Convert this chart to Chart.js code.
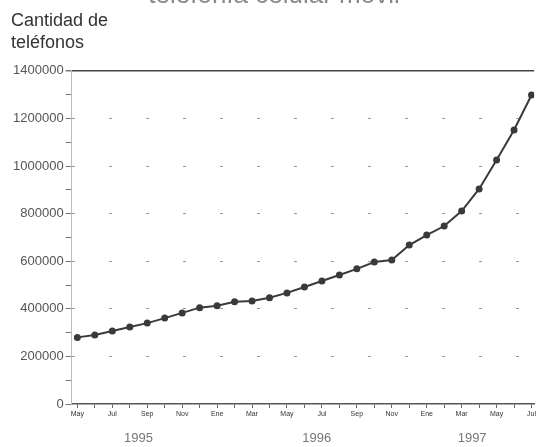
<!DOCTYPE html>
<html>
<head>
<meta charset="utf-8">
<script src="https://cdn.jsdelivr.net/npm/chart.js@4/dist/chart.umd.min.js"></script>
<style>
  html, body { margin: 0; padding: 0; background: #fff; }
  #wrap { width: 538px; height: 447px; }
</style>
</head>
<body>
<div id="wrap"><canvas id="c"></canvas></div>
<script>
const months = ['May','Jun','Jul','Ago','Sep','Oct','Nov','Dic','Ene','Feb','Mar','Abr','May','Jun','Jul','Ago','Sep','Oct','Nov','Dic','Ene','Feb','Mar','Abr','May','Jun','Jul'];
const phones = [280000,290000,307000,324000,340000,361000,383000,405000,413000,430000,433000,447000,467000,492000,517000,542000,568000,597000,605000,668000,710000,748000,811000,904000,1026000,1152000,1299000];
const years = ['1995','1996','1997'];
const yearAt = [3.5, 13.7, 22.6];
const yTicks = [0,100000,200000,300000,400000,500000,600000,700000,800000,900000,1000000,1100000,1200000,1300000,1400000];
const titleText = 'telefonía celular móvil';
const yTitle = ['Cantidad de','teléfonos'];

const TOP = 1400000;
const isMajor = v => v % 200000 === 0;

new Chart(document.getElementById('c'), {
  type: 'line',
  data: {
    datasets: [{
      data: phones.map((v, i) => ({x: i, y: v})),
      borderColor: '#3a3a3a',
      backgroundColor: '#3a3a3a',
      borderWidth: 2,
      pointRadius: 2.5,
      pointHoverRadius: 2.5,
      tension: 0,
      fill: false
    }]
  },
  options: {
    responsive: true,
    maintainAspectRatio: false,
    animation: false,
    events: [],
    layout: { autoPadding: false, padding: { left: 11, right: 1, top: 0, bottom: -1 } },
    plugins: {
      legend: { display: false },
      tooltip: { enabled: false },
      title: {
        display: true,
        text: titleText,
        color: '#8a8a8a',
        font: { family: 'Liberation Sans', size: 26, weight: 'normal' },
        padding: { top: -20, bottom: -3.2 }
      },
      subtitle: {
        display: true,
        text: yTitle,
        align: 'start',
        color: '#333',
        font: { family: 'Liberation Sans', size: 18, weight: 'normal', lineHeight: 1.22 },
        padding: { top: 2, bottom: 17 }
      }
    },
    scales: {
      x: {
        type: 'linear',
        position: 'bottom',
        weight: 0,
        min: -0.33,
        max: 26.15,
        afterBuildTicks: s => { s.ticks = months.map((m, i) => ({ value: i })); },
        ticks: {
          autoSkip: false,
          maxRotation: 0,
          padding: 2,
          color: '#333',
          font: { family: 'Liberation Sans', size: 7 },
          callback: (v, i) => (i % 2 === 0 ? months[i] : '')
        },
        grid: { drawOnChartArea: false, drawTicks: true, tickLength: 4, color: '#666' },
        border: { color: '#555', width: 1.5 }
      },
      x2: {
        type: 'linear',
        position: 'bottom',
        weight: 1,
        min: -0.33,
        max: 26.15,
        afterBuildTicks: s => { s.ticks = yearAt.map(v => ({ value: v })); },
        ticks: {
          autoSkip: false,
          maxRotation: 0,
          padding: 2,
          color: '#777',
          font: { family: 'Liberation Sans', size: 13 },
          callback: (v, i) => years[i]
        },
        grid: { display: false },
        border: { display: false }
      },
      y: {
        min: 0,
        max: TOP,
        afterBuildTicks: s => { s.ticks = yTicks.map(v => ({ value: v })); },
        ticks: {
          autoSkip: false,
          padding: 2,
          color: '#555',
          font: { family: 'Liberation Sans', size: 13 },
          callback: v => (isMajor(v) ? String(v) : '')
        },
        grid: {
          color: ctx => {
            const v = ctx.tick ? ctx.tick.value : 0;
            if (v === TOP) return '#444';
            if (v === 0) return 'rgba(0,0,0,0)';
            return isMajor(v) ? '#9a9a9a' : 'rgba(0,0,0,0)';
          },
          lineWidth: ctx => (ctx.tick && ctx.tick.value === TOP ? 1.5 : 1),
          tickColor: '#777',
          tickLength: 6
        },
        border: {
          color: '#bbb',
          dash: ctx => (ctx.tick && ctx.tick.value === TOP ? [] : [3, 34])
        }
      }
    }
  }
});
</script>
</body>
</html>
